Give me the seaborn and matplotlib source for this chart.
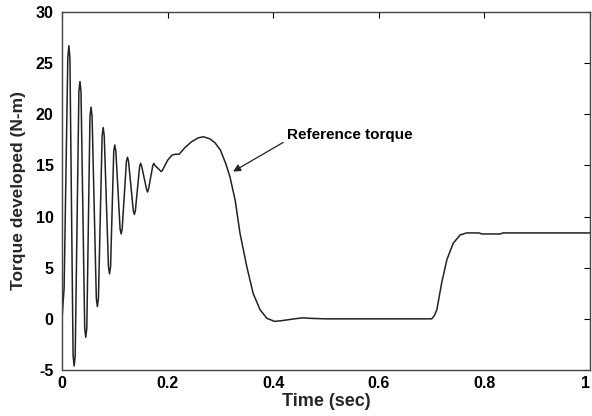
import numpy as np
import pandas as pd
import matplotlib
matplotlib.use("Agg")
import matplotlib.pyplot as plt
import seaborn as sns

# ---- data ----
time_s = [0.000, 0.004, 0.011, 0.013, 0.015, 0.021, 0.023, 0.025,
          0.032, 0.034, 0.036, 0.043, 0.045, 0.047, 0.053, 0.055, 0.057,
          0.065, 0.067, 0.069, 0.076, 0.078, 0.080, 0.088, 0.090, 0.092,
          0.098, 0.100, 0.102, 0.110, 0.112, 0.114, 0.122, 0.124, 0.126,
          0.135, 0.137, 0.139, 0.147, 0.149, 0.151, 0.160, 0.162, 0.164,
          0.172, 0.174, 0.176, 0.186, 0.188, 0.190,
          0.200, 0.208, 0.215, 0.222, 0.232, 0.245, 0.258, 0.268, 0.280,
          0.290, 0.300, 0.310, 0.318, 0.328, 0.337, 0.350, 0.362, 0.375,
          0.388, 0.403, 0.420, 0.440, 0.456, 0.470, 0.500, 0.700, 0.705,
          0.710, 0.719, 0.729, 0.741, 0.754, 0.766, 0.790, 0.795, 0.830,
          0.835, 1.000]
torque_nm = [0.0, 3.0, 25.5, 26.7, 25.5, -3.6, -4.6, -3.6,
             22.2, 23.2, 22.2, -0.9, -1.8, -0.9, 19.8, 20.7, 19.8,
             2.0, 1.2, 2.0, 17.9, 18.7, 17.9, 5.1, 4.4, 5.1,
             16.4, 17.0, 16.4, 8.8, 8.3, 8.8, 15.4, 15.8, 15.4,
             10.6, 10.2, 10.6, 14.9, 15.2, 14.9, 12.7, 12.4, 12.7,
             15.0, 15.2, 15.0, 14.5, 14.4, 14.5,
             15.5, 16.0, 16.1, 16.1, 16.7, 17.3, 17.7, 17.8, 17.6,
             17.2, 16.5, 15.2, 13.9, 11.6, 8.4, 5.1, 2.5, 0.9,
             0.05, -0.25, -0.15, 0.0, 0.1, 0.05, 0.0, 0.0, 0.3,
             0.9, 3.5, 5.8, 7.4, 8.2, 8.4, 8.4, 8.3, 8.3,
             8.4, 8.4]

x_ticks = [0, 0.2, 0.4, 0.6, 0.8, 1]
x_tick_labels = ["0", "0.2", "0.4", "0.6", "0.8", "1"]
y_ticks = [-5, 0, 5, 10, 15, 20, 25, 30]
y_tick_labels = ["-5", "0", "5", "10", "15", "20", "25", "30"]

df = pd.DataFrame({"Time (sec)": time_s, "Torque": torque_nm})

sns.set_style("white")
plt.rcParams["font.family"] = ["Liberation Sans", "DejaVu Sans"]
plt.rcParams["font.weight"] = "bold"

fig = plt.figure(figsize=(5.92, 4.16), dpi=100)
ax = fig.add_axes([62 / 592, 46 / 416, 528 / 592, 358 / 416])

sns.lineplot(data=df, x="Time (sec)", y="Torque", ax=ax, estimator=None,
             sort=False, color="#222222", linewidth=1.1)

ax.set_xlim(0, 1)
ax.set_ylim(-5, 30)
ax.set_xticks(x_ticks)
ax.set_xticklabels(x_tick_labels)
ax.set_yticks(y_ticks)
ax.set_yticklabels(y_tick_labels)
ax.tick_params(direction="in", length=4, width=0.8, top=True, right=True,
               labelsize=11.5, colors="black")
ax.tick_params(axis="y", pad=6)
ax.tick_params(axis="x", pad=4)
for lab in ax.get_xticklabels() + ax.get_yticklabels():
    lab.set_fontweight("bold")
ax.get_xticklabels()[-1].set_horizontalalignment("right")
for s in ax.spines.values():
    s.set_color("#444444")
    s.set_linewidth(1.0)
    s.set_visible(True)

ax.set_xlabel("Time (sec)", fontsize=13, fontweight="bold", labelpad=2)
ax.set_ylabel("Torque developed (N-m)", fontsize=12.5, fontweight="bold",
              labelpad=7)

ax.annotate("", xy=(0.324, 14.4), xytext=(0.419, 17.25),
            arrowprops=dict(arrowstyle="-|>", color="#222222", lw=0.9,
                            mutation_scale=11, shrinkA=0, shrinkB=0))
ax.text(0.426, 18.0, "Reference torque", fontsize=11, fontweight="bold",
        va="center", ha="left", color="black")

fig.savefig("out.png", dpi=100)
